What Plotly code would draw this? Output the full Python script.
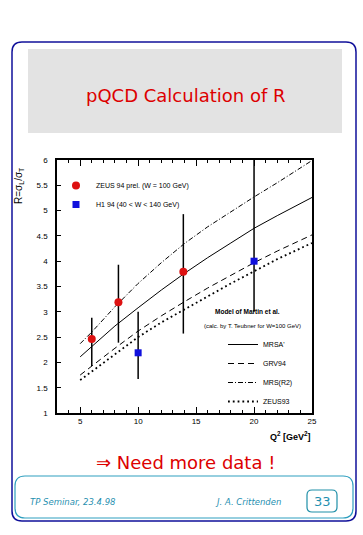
import plotly.graph_objects as go

# ---------------- data ----------------
q2_curve = [5, 6, 8, 10, 12, 14, 16, 18, 20, 22, 25]
r_mrsa = [2.11, 2.32, 2.72, 3.08, 3.43, 3.76, 4.07, 4.36, 4.65, 4.90, 5.26]
r_grv94 = [1.75, 1.93, 2.28, 2.62, 2.92, 3.20, 3.47, 3.72, 3.97, 4.20, 4.52]
r_mrsr2 = [2.37, 2.60, 3.10, 3.56, 3.97, 4.35, 4.68, 4.98, 5.27, 5.55, 5.99]
r_zeus93 = [1.65, 1.82, 2.17, 2.50, 2.79, 3.05, 3.31, 3.56, 3.80, 4.04, 4.36]

zeus_q2 = [6.0, 8.3, 13.9]
zeus_r = [2.46, 3.19, 3.79]
zeus_err_up = [0.42, 0.74, 1.14]
zeus_err_dn = [0.53, 0.80, 1.22]

h1_q2 = [10.0, 20.0]
h1_r = [2.19, 4.00]
h1_err_up = [0.81, 2.60]
h1_err_dn = [0.52, 1.00]

x_ticks = [5, 10, 15, 20, 25]
y_ticks = [1, 1.5, 2, 2.5, 3, 3.5, 4, 4.5, 5, 5.5, 6]
y_ticklabels = ["1", "1.5", "2", "2.5", "3", "3.5", "4", "4.5", "5", "5.5", "6"]

# ---------------- layout helpers (pixel -> paper) ----------------
W, H = 363, 535
L, R, T, B = 57, 312, 160, 413
def px(x):
    return (x - L) / (R - L)
def py(y):
    return (B - y) / (B - T)

def rrect(l, t, r, b, rad):
    pts = [
        ("M", [(l + rad, t)]), ("L", [(r - rad, t)]), ("Q", [(r, t), (r, t + rad)]),
        ("L", [(r, b - rad)]), ("Q", [(r, b), (r - rad, b)]), ("L", [(l + rad, b)]),
        ("Q", [(l, b), (l, b - rad)]), ("L", [(l, t + rad)]), ("Q", [(l, t), (l + rad, t)]),
    ]
    s = ""
    for cmd, ps in pts:
        s += cmd + " " + " ".join(f"{px(a):.5f},{py(c):.5f}" for a, c in ps) + " "
    return s + "Z"

fig = go.Figure()

fig.add_trace(go.Scatter(x=q2_curve, y=r_mrsa, mode="lines", name="MRSA'",
                         line=dict(color="black", width=1), legend="legend2"))
fig.add_trace(go.Scatter(x=q2_curve, y=r_grv94, mode="lines", name="GRV94",
                         line=dict(color="black", width=1, dash="6px,4px"), legend="legend2"))
fig.add_trace(go.Scatter(x=q2_curve, y=r_mrsr2, mode="lines", name="MRS(R2)",
                         line=dict(color="black", width=1, dash="5px,2px,1px,2px"), legend="legend2"))
fig.add_trace(go.Scatter(x=q2_curve, y=r_zeus93, mode="lines", name="ZEUS93",
                         line=dict(color="black", width=1.8, dash="1.8px,3px"), legend="legend2"))

fig.add_trace(go.Scatter(
    x=zeus_q2, y=zeus_r, mode="markers", name="ZEUS 94 prel. (W = 100 GeV)",
    marker=dict(symbol="circle", size=8, color="#dd1111"),
    error_y=dict(type="data", symmetric=False, array=zeus_err_up, arrayminus=zeus_err_dn,
                 color="black", thickness=1.5, width=0),
    legend="legend"))
fig.add_trace(go.Scatter(
    x=h1_q2, y=h1_r, mode="markers", name="H1 94 (40 < W < 140 GeV)",
    marker=dict(symbol="square", size=7, color="#1010dd"),
    error_y=dict(type="data", symmetric=False, array=h1_err_up, arrayminus=h1_err_dn,
                 color="black", thickness=1.5, width=0),
    legend="legend"))

tick_font = dict(family="Liberation Sans", size=8, color="black")

shapes = [
    dict(type="path", path=rrect(12, 42, 356, 521, 10), xref="paper", yref="paper",
         line=dict(color="#10109a", width=1.5), layer="below"),
    dict(type="rect", x0=px(28), x1=px(342), y0=py(133), y1=py(49), xref="paper", yref="paper",
         fillcolor="#e3e3e3", line=dict(width=0), layer="below"),
    dict(type="path", path=rrect(15, 476, 353, 518, 10), xref="paper", yref="paper",
         line=dict(color="#2f9fbf", width=1.2), layer="below"),
    dict(type="path", path=rrect(307, 490, 337, 512, 5), xref="paper", yref="paper",
         line=dict(color="#1f8fa8", width=1.2), layer="below"),
]

annotations = [
    dict(text="pQCD Calculation of R", x=px(185), y=py(96), xref="paper", yref="paper",
         showarrow=False, font=dict(family="DejaVu Sans", size=18, color="#dd0000"),
         xanchor="center", yanchor="middle"),
    dict(text="⇒ Need more data !", x=px(185), y=py(462), xref="paper", yref="paper",
         showarrow=False, font=dict(family="DejaVu Sans", size=18, color="#dd0000"),
         xanchor="center", yanchor="middle"),
    dict(text="<i>TP Seminar, 23.4.98</i>", x=px(28), y=py(502), xref="paper", yref="paper",
         showarrow=False, font=dict(family="DejaVu Sans", size=8.5, color="#1f8fb0"),
         xanchor="left", yanchor="middle"),
    dict(text="<i>J. A. Crittenden</i>", x=px(213), y=py(502), xref="paper", yref="paper",
         showarrow=False, font=dict(family="DejaVu Sans", size=8.5, color="#1f8fb0"),
         xanchor="left", yanchor="middle"),
    dict(text="33", x=px(322), y=py(501), xref="paper", yref="paper",
         showarrow=False, font=dict(family="DejaVu Sans", size=13, color="#1f8fb0"),
         xanchor="center", yanchor="middle"),
    dict(text="R=σ<sub>L</sub>/σ<sub>T</sub>", x=px(19), y=py(186), xref="paper", yref="paper",
         showarrow=False, textangle=-90, font=dict(family="Liberation Sans", size=10, color="black"),
         xanchor="center", yanchor="middle"),
    dict(text="<b>Q<sup>2</sup> [GeV<sup>2</sup>]</b>", x=px(313), y=py(436), xref="paper", yref="paper",
         showarrow=False, font=dict(family="Liberation Sans", size=9, color="black"),
         xanchor="right", yanchor="middle"),
    dict(text="<b>Model of Martin et al.</b>", x=px(247), y=py(311), xref="paper", yref="paper",
         showarrow=False, font=dict(family="Liberation Sans", size=6.5, color="black"),
         xanchor="center", yanchor="middle"),
    dict(text="(calc. by T. Teubner for W=100 GeV)", x=px(252), y=py(326), xref="paper", yref="paper",
         showarrow=False, font=dict(family="Liberation Sans", size=6, color="black"),
         xanchor="center", yanchor="middle"),
]

fig.update_layout(
    width=W, height=H,
    margin=dict(l=L, r=W - R, t=T, b=H - B, pad=0),
    paper_bgcolor="white", plot_bgcolor="white",
    showlegend=True,
    legend=dict(x=px(56), y=py(171), xanchor="left", yanchor="top", bgcolor="rgba(0,0,0,0)",
                font=dict(family="Liberation Sans", size=7, color="black"),
                itemwidth=30, tracegroupgap=0),
    legend2=dict(x=px(223), y=py(330), xanchor="left", yanchor="top", bgcolor="rgba(0,0,0,0)",
                 font=dict(family="Liberation Sans", size=7, color="black"),
                 itemwidth=30, tracegroupgap=0),
    xaxis=dict(range=[3, 25], tickmode="array", tickvals=x_ticks, ticks="inside", ticklen=6,
               tickwidth=1, tickcolor="black", showline=True, linecolor="black", linewidth=1.5,
               mirror="ticks", showgrid=False, zeroline=False, tickfont=tick_font,
               minor=dict(dtick=1, tick0=0, ticks="inside", ticklen=3, tickcolor="black", showgrid=False)),
    yaxis=dict(range=[1, 6], tickmode="array", tickvals=y_ticks, ticktext=y_ticklabels,
               ticks="inside", ticklen=4, tickwidth=1, tickcolor="black",
               showline=True, linecolor="black", linewidth=1.5, mirror=True,
               showgrid=False, zeroline=False, tickfont=tick_font, ticklabelstandoff=6),
    shapes=shapes,
    annotations=annotations,
)

fig.write_html("out.html", config={"displayModeBar": False},
               post_script="document.body.style.margin='0px';document.body.style.padding='0px';")
